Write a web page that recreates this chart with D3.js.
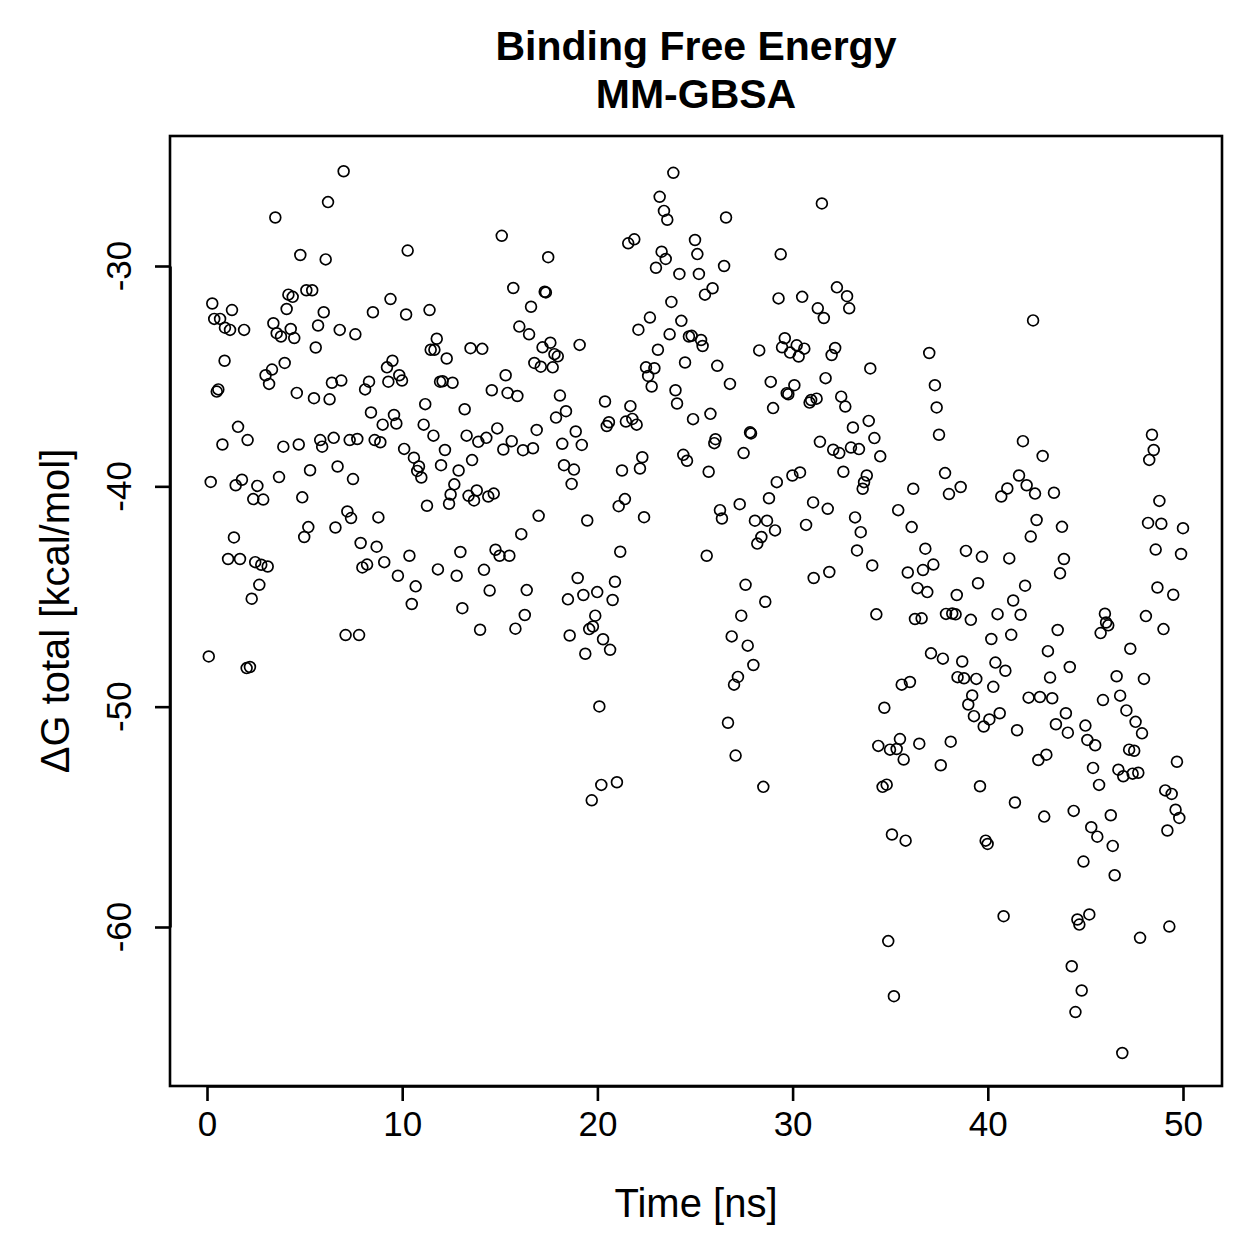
<!DOCTYPE html>
<html>
<head>
<meta charset="utf-8">
<script src="https://cdn.jsdelivr.net/npm/d3@7"></script>
<style>
  body { margin: 0; background: #fff; }
  text { font-family: "Liberation Sans", Arial, Helvetica, sans-serif; fill: #000; }
</style>
</head>
<body>
<svg id="chart"></svg>
<script>
const width = 1259;
const height = 1259;

// tiempo de simulación [ns]
const time = [
  0.09,0.19,0.27,0.37,0.50,0.58,0.67,0.79,0.90,0.92,1.08,1.18,1.28,1.38,1.47,1.59,1.69,1.79,1.90,2.03,
  2.08,2.20,2.29,2.37,2.47,2.58,2.68,2.78,2.88,3.00,3.11,3.18,3.33,3.40,3.50,3.57,3.69,3.79,3.91,3.98,
  4.08,4.17,4.29,4.39,4.47,4.60,4.70,4.78,4.88,4.98,5.09,5.19,5.28,5.39,5.48,5.57,5.69,5.80,5.90,5.98,
  6.08,6.20,6.28,6.40,6.49,6.58,6.69,6.80,6.88,7.00,7.10,7.19,7.31,7.38,7.48,7.60,7.70,7.79,7.87,7.96,
  8.10,8.20,8.30,8.40,8.50,8.59,8.69,8.78,8.88,9.00,9.08,9.22,9.29,9.40,9.50,9.58,9.70,9.78,9.85,9.99,
  10.10,10.20,10.28,10.37,10.49,10.60,10.69,10.77,10.86,10.98,11.10,11.18,11.27,11.40,11.46,11.60,11.65,11.77,11.83,11.94,
  11.99,12.07,12.19,12.28,12.40,12.48,12.58,12.67,12.79,12.89,12.98,13.08,13.20,13.30,13.40,13.50,13.58,13.68,13.82,13.90,
  13.99,14.10,14.19,14.31,14.41,14.48,14.59,14.69,14.78,14.87,14.99,15.10,15.18,15.30,15.40,15.49,15.61,15.69,15.80,15.90,
  16.00,16.10,16.19,16.28,16.38,16.50,16.60,16.70,16.77,16.89,16.99,17.10,17.19,17.30,17.36,17.48,17.59,17.71,17.80,17.88,
  17.97,18.08,18.20,18.29,18.39,18.49,18.58,18.68,18.80,18.89,18.99,19.09,19.20,19.28,19.38,19.48,19.58,19.71,19.77,19.89,
  19.99,20.10,20.20,20.29,20.39,20.48,20.59,20.65,20.78,20.90,21.00,21.09,21.17,21.26,21.41,21.46,21.58,21.69,21.79,21.89,
  22.01,22.10,22.18,22.30,22.39,22.49,22.60,22.69,22.78,22.92,23.00,23.10,23.19,23.29,23.41,23.50,23.58,23.70,23.79,23.89,
  24.00,24.08,24.20,24.30,24.40,24.49,24.59,24.69,24.83,24.90,25.00,25.12,25.20,25.31,25.39,25.51,25.60,25.70,25.79,25.90,
  25.99,26.05,26.14,26.28,26.38,26.49,26.59,26.69,26.79,26.88,27.00,27.08,27.20,27.29,27.37,27.49,27.59,27.70,27.82,27.87,
  27.99,28.07,28.19,28.29,28.40,28.50,28.60,28.69,28.79,28.88,29.00,29.10,29.19,29.28,29.39,29.46,29.60,29.70,29.78,29.87,
  29.99,30.09,30.21,30.31,30.38,30.49,30.60,30.69,30.87,30.95,31.05,31.08,31.23,31.29,31.40,31.50,31.60,31.69,31.80,31.88,
  32.00,32.08,32.18,32.27,32.39,32.49,32.60,32.70,32.79,32.90,32.99,33.09,33.20,33.30,33.40,33.49,33.59,33.66,33.80,33.90,
  33.98,34.08,34.19,34.29,34.39,34.49,34.61,34.70,34.82,34.90,34.99,35.09,35.19,35.33,35.41,35.50,35.59,35.69,35.79,35.90,
  36.01,36.10,36.18,36.27,36.40,36.49,36.61,36.68,36.80,36.90,37.00,37.09,37.21,37.29,37.38,37.50,37.59,37.70,37.81,37.86,
  38.01,38.10,38.18,38.35,38.41,38.45,38.61,38.69,38.78,38.88,39.00,39.13,39.20,39.29,39.41,39.50,39.60,39.70,39.79,39.89,
  39.99,40.08,40.18,40.28,40.39,40.50,40.61,40.69,40.81,40.90,41.00,41.10,41.20,41.30,41.39,41.50,41.60,41.68,41.80,41.91,
  41.99,42.09,42.20,42.32,42.42,42.50,42.59,42.67,42.81,42.89,43.00,43.08,43.19,43.30,43.39,43.49,43.58,43.70,43.80,43.90,
  44.00,44.10,44.20,44.30,44.40,44.49,44.59,44.69,44.81,44.90,45.00,45.10,45.20,45.30,45.39,45.50,45.61,45.70,45.78,45.90,
  46.00,46.06,46.17,46.30,46.40,46.50,46.60,46.69,46.78,46.89,46.94,47.10,47.24,47.30,47.42,47.50,47.57,47.71,47.80,47.90,
  48.00,48.10,48.21,48.27,48.41,48.50,48.60,48.69,48.79,48.89,49.00,49.09,49.20,49.30,49.42,49.50,49.62,49.69,49.81,49.90,
  50.00
];

// ΔG total [kcal/mol]
const dG = [
  -47.72,-39.80,-31.70,-32.40,-35.70,-35.60,-32.40,-38.10,-34.30,-32.80,-43.30,-32.90,-32.00,-42.32,-39.95,-37.30,-43.30,-39.70,-32.90,-48.25,
  -37.90,-48.20,-45.10,-40.58,-43.44,-39.98,-44.47,-43.56,-40.60,-34.96,-43.64,-35.35,-34.70,-32.60,-27.80,-33.05,-39.58,-33.20,-38.20,-34.40,
  -31.95,-31.30,-32.86,-31.40,-33.27,-35.76,-38.10,-29.50,-40.50,-42.30,-31.10,-41.85,-39.27,-31.10,-36.00,-33.70,-32.70,-37.90,-38.20,-32.10,
  -29.70,-27.10,-36.05,-35.30,-37.80,-41.87,-39.10,-32.90,-35.20,-25.70,-46.75,-41.14,-37.90,-41.44,-39.67,-33.10,-37.85,-46.75,-42.57,-43.68,
  -35.60,-43.55,-35.25,-36.65,-32.10,-37.90,-42.74,-41.41,-38.00,-37.20,-43.44,-34.60,-35.25,-31.50,-34.30,-36.76,-37.15,-44.06,-34.96,-35.20,
  -38.30,-32.20,-29.30,-43.15,-45.34,-38.70,-44.54,-39.30,-39.10,-39.60,-37.20,-36.27,-40.88,-32.00,-33.80,-37.70,-33.80,-33.30,-43.77,-35.25,
  -39.04,-35.23,-38.35,-34.20,-40.79,-40.37,-35.30,-39.91,-44.06,-39.28,-42.98,-45.53,-36.50,-37.70,-40.43,-33.73,-38.81,-40.64,-40.19,-37.98,
  -46.51,-33.76,-43.79,-37.80,-40.46,-44.73,-35.64,-40.33,-42.88,-37.37,-43.15,-28.63,-38.33,-34.96,-35.76,-43.15,-37.95,-31.00,-46.46,-35.90,
  -32.75,-42.17,-38.36,-45.84,-44.71,-33.10,-31.85,-38.27,-34.40,-37.44,-41.34,-34.57,-33.69,-31.17,-31.20,-29.60,-33.48,-34.60,-34.00,-36.88,
  -34.10,-35.88,-38.07,-39.04,-36.59,-45.13,-46.77,-39.89,-39.24,-37.51,-44.16,-33.58,-38.12,-44.93,-47.60,-41.55,-46.48,-54.25,-46.36,-45.87,
  -44.80,-49.99,-53.55,-46.94,-36.15,-37.26,-37.09,-47.42,-45.16,-44.33,-53.43,-40.90,-42.97,-39.28,-40.58,-37.06,-28.97,-36.36,-36.94,-28.79,
  -37.20,-32.89,-39.19,-38.68,-41.40,-34.60,-34.99,-32.34,-35.47,-34.64,-30.08,-33.80,-26.86,-29.35,-27.50,-29.68,-27.90,-33.10,-31.63,-25.77,
  -35.64,-36.24,-30.36,-32.49,-38.57,-34.38,-38.84,-33.20,-33.17,-36.95,-28.82,-29.46,-30.36,-33.36,-33.63,-31.30,-43.15,-39.34,-36.71,-31.01,
  -38.04,-37.86,-34.53,-41.08,-41.46,-30.00,-27.80,-50.73,-35.35,-46.81,-49.00,-52.22,-48.65,-40.81,-45.87,-38.49,-44.47,-47.23,-37.55,-37.60,
  -48.11,-41.56,-42.60,-33.83,-42.30,-53.64,-45.24,-41.56,-40.54,-35.26,-36.45,-42.00,-39.81,-31.47,-29.47,-33.69,-33.28,-35.77,-35.82,-33.93,
  -39.51,-35.41,-33.60,-34.11,-39.37,-31.40,-33.75,-41.75,-36.20,-36.08,-40.73,-44.16,-36.02,-31.92,-37.98,-27.16,-32.36,-35.09,-41.02,-43.89,
  -34.04,-38.34,-33.72,-30.97,-38.49,-35.93,-39.34,-36.38,-31.37,-31.92,-38.24,-37.33,-41.41,-42.91,-38.31,-42.08,-40.11,-39.81,-39.51,-37.03,
  -34.65,-43.59,-37.81,-45.81,-51.78,-38.64,-53.64,-50.05,-53.54,-60.64,-51.95,-55.80,-63.14,-51.92,-41.08,-51.47,-49.00,-52.40,-56.08,-43.91,
  -48.88,-41.85,-40.11,-46.02,-44.62,-51.68,-45.99,-43.80,-42.83,-44.80,-33.95,-47.58,-43.55,-35.41,-36.42,-37.66,-52.66,-47.82,-39.40,-45.79,
  -40.35,-51.59,-45.77,-45.81,-44.93,-48.66,-40.03,-47.95,-48.71,-42.93,-49.90,-46.06,-49.49,-50.43,-48.74,-44.40,-53.61,-43.20,-50.90,-56.08,
  -56.23,-50.58,-46.93,-49.10,-48.00,-45.80,-50.30,-40.46,-59.51,-48.37,-40.10,-43.27,-46.74,-45.18,-54.35,-51.07,-39.51,-45.83,-37.95,-44.51,
  -39.95,-49.59,-42.28,-32.47,-40.33,-41.53,-52.42,-49.56,-38.62,-54.99,-52.18,-47.48,-48.68,-49.62,-40.29,-50.80,-46.52,-43.95,-41.84,-43.30,
  -50.30,-51.18,-48.20,-61.78,-54.73,-63.86,-59.66,-59.89,-62.88,-57.03,-50.86,-51.51,-59.43,-55.47,-52.78,-51.75,-55.90,-53.55,-46.66,-49.70,
  -45.78,-46.18,-46.31,-54.93,-56.32,-57.65,-48.62,-52.86,-49.50,-65.72,-53.16,-50.17,-51.95,-47.37,-53.04,-52.00,-50.69,-53.00,-60.49,-51.21,
  -48.74,-45.89,-41.66,-38.80,-37.66,-38.35,-42.87,-44.59,-40.66,-41.70,-46.48,-53.80,-55.62,-59.98,-53.96,-44.92,-54.68,-52.50,-55.05,-43.07,
  -41.90
];

const xTicks = [0, 10, 20, 30, 40, 50];
const yTicks = [-30, -40, -50, -60];
const titleLines = ["Binding Free Energy", "MM-GBSA"];
const xLabel = "Time [ns]";
const yLabel = "\u0394G total [kcal/mol]";

const points = time.map((t, i) => ({ t: t, g: dG[i] }));

// caja del gráfico
const box = { left: 170, right: 1222, top: 136, bottom: 1086 };

const x = d3.scaleLinear().domain([0, 50]).range([207, 1183]);
const y = d3.scaleLinear().domain([-30, -60]).range([266, 927]);

const svg = d3.select("#chart")
  .attr("width", width)
  .attr("height", height);

svg.append("rect")
  .attr("width", width)
  .attr("height", height)
  .attr("fill", "#fff");

// puntos
svg.append("g")
  .selectAll("circle")
  .data(points)
  .join("circle")
  .attr("cx", d => x(d.t))
  .attr("cy", d => y(d.g))
  .attr("r", 5.4)
  .attr("fill", "none")
  .attr("stroke", "#000")
  .attr("stroke-width", 1.7);

// borde
svg.append("rect")
  .attr("x", box.left)
  .attr("y", box.top)
  .attr("width", box.right - box.left)
  .attr("height", box.bottom - box.top)
  .attr("fill", "none")
  .attr("stroke", "#000")
  .attr("stroke-width", 2.6);

// eje X
const xAxis = svg.append("g")
  .attr("transform", `translate(0,${box.bottom})`)
  .call(d3.axisBottom(x).tickValues(xTicks).tickSize(15).tickSizeOuter(0).tickPadding(10));
xAxis.select(".domain").attr("stroke-width", 2.6);
xAxis.selectAll(".tick line").attr("stroke-width", 2.6);
xAxis.selectAll(".tick text")
  .attr("font-size", 35)
  .attr("font-family", "Liberation Sans, Arial, sans-serif")
  .attr("fill", "#000");

// eje Y
const yAxis = svg.append("g")
  .attr("transform", `translate(${box.left},0)`)
  .call(d3.axisLeft(y).tickValues(yTicks).tickSize(15).tickSizeOuter(0).tickFormat(""));
yAxis.select(".domain").attr("stroke-width", 2.6);
yAxis.selectAll(".tick line").attr("stroke-width", 2.6);

svg.append("g")
  .selectAll("text")
  .data(yTicks)
  .join("text")
  .attr("transform", d => `translate(131,${y(d)}) rotate(-90)`)
  .attr("text-anchor", "middle")
  .attr("font-size", 35)
  .text(d => d);

// títulos
svg.append("g")
  .selectAll("text")
  .data(titleLines)
  .join("text")
  .attr("x", (box.left + box.right) / 2)
  .attr("y", (d, i) => 60 + i * 48)
  .attr("text-anchor", "middle")
  .attr("font-size", 41)
  .attr("font-weight", "bold")
  .text(d => d);

svg.append("text")
  .attr("x", (box.left + box.right) / 2)
  .attr("y", 1217)
  .attr("text-anchor", "middle")
  .attr("font-size", 40)
  .text(xLabel);

svg.append("text")
  .attr("transform", `translate(69,${(box.top + box.bottom) / 2}) rotate(-90)`)
  .attr("text-anchor", "middle")
  .attr("font-size", 40)
  .text(yLabel);
</script>
</body>
</html>
